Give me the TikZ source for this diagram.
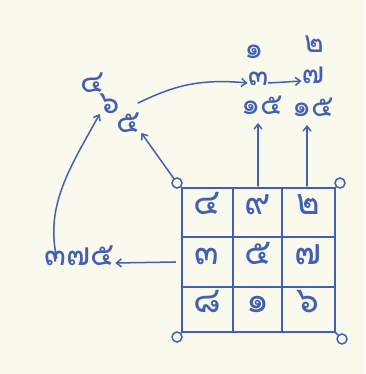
\documentclass[tikz,border=0pt]{standalone}
\usepackage{fontspec}
\newfontfamily\thaifont[Script=Thai]{Loma}
\usetikzlibrary{arrows.meta}
\definecolor{paper}{RGB}{250,249,238}
\definecolor{ink}{RGB}{66,96,178}
\begin{document}
\begin{tikzpicture}[x=1pt,y=-1pt,
  every node/.style={text=ink,inner sep=0pt},
  tight/.style={text height=0.55em,text depth=0pt},
  cell/.style={tight,font=\thaifont\fontsize{36}{36}\selectfont},
  glyph/.style={tight,font=\thaifont\fontsize{32}{32}\selectfont},
  small/.style={tight,font=\thaifont\fontsize{30}{30}\selectfont},
  pen/.style={draw=ink,line width=1.5pt,line cap=round},
  arr/.style={pen,-{Straight Barb[length=5pt,width=8pt]}},
  ring/.style={circle,draw=ink,line width=1.5pt,minimum size=10pt}]
\fill[paper] (0,0) rectangle (365,374);
\useasboundingbox (0,0) rectangle (365,374);
% grid
\draw[pen] (182,188) rectangle (335,332);
\draw[pen] (233,188) -- (233,332) (282,188) -- (282,332)
           (182,237) -- (335,237) (182,287) -- (335,287);
\node[ring] (ctl) at (177,183) {};
\node[ring] (ctr) at (340,183) {};
\node[ring] (cbl) at (177,337) {};
\node[ring] (cbr) at (342,339) {};
\draw[pen] (ctl) -- (182,188) (ctr) -- (335,188) (cbl) -- (182,332) (cbr) -- (335,332);
% cells
\node[cell] (c11) at (207,212) {๔};
\node[cell] (c12) at (258,212) {๙};
\node[cell] (c13) at (308,212) {๒};
\node[cell] (c21) at (207,262) {๓};
\node[cell] (c22) at (258,262) {๕};
\node[cell] (c23) at (308,262) {๗};
\node[cell] (c31) at (207,310) {๘};
\node[cell] (c32) at (258,310) {๑};
\node[cell] (c33) at (308,310) {๖};
% left number
\node[glyph] (row) at (80,263) {๓๗๕};
\coordinate (gl) at (175,262);
\fill[ink] (gl) circle (1pt);
\draw[arr] (gl) -- (row.east);
% cluster
\node[glyph] (g1) at (93,90) {๔};
\node[glyph] (g2) at (110,111) {๖};
\node[glyph] (g3) at (129,130) {๕};
\draw[arr] (row.north west) ++(12,-2) .. controls (45,205) and (70,168) .. (g2.south west);
\draw[arr] (ctl) -- (g3.south east);
\coordinate (cs) at (138,103);
% stacks
\node[small] (s11) at (254,56) {๑};
\node[small] (s12) at (258,83) {๓};
\node[small] (s13) at (262,112) {๑๕};
\node[small] (s21) at (314,50) {๒};
\node[small] (s22) at (313,81) {๗};
\node[small] (s23) at (313,114) {๑๕};
\draw[arr] (cs) .. controls (170,88) and (195,78) .. (s12.west);
\draw[arr] (s12.east) -- (s22.west);
\coordinate (t2) at (258,186);
\coordinate (t3) at (307,186);
\draw[arr] (t2) -- ([yshift=-8pt]t2 |- s13.south);
\draw[arr] (t3) -- ([yshift=-8pt]t3 |- s23.south);
\end{tikzpicture}
\end{document}
